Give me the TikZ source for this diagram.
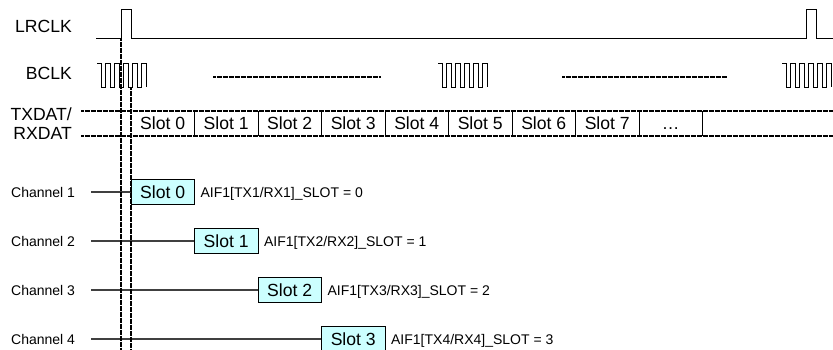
\documentclass[tikz,border=0pt]{standalone}
\usepackage{fontspec}
\setmainfont{Liberation Sans}
\usepackage{xcolor}
\usetikzlibrary{positioning, calc}

\definecolor{slotcyan}{RGB}{204,255,255}

\tikzset{
  sig/.style={line width=1pt, line join=miter},
  dotline/.style={line width=2pt, dash pattern=on 0.8pt off 0.4pt},
  biglabel/.style={font=\fontsize{17.6}{20}\selectfont, inner sep=0pt, text height=12.6pt, text depth=0pt},
  smalllabel/.style={font=\fontsize{14}{16}\selectfont, inner sep=0pt, text height=10pt, text depth=0pt},
  slotcell/.style={biglabel, minimum width=63.5pt, minimum height=25pt},
  chbox/.style={slotcell, draw, line width=0.9pt, fill=slotcyan},
  chline/.style={line width=1.3pt, black!75},
}

\begin{document}
\begin{tikzpicture}[x=1pt, y=-1pt]
    \useasboundingbox (0,0) rectangle (833,349);
    \def\slotw{63.5}
    \def\xb{131}
    \def\hi{63}

    % Signal names
    \node[biglabel, anchor=east] (lrclk) at (72,26) {LRCLK};
    \node[biglabel, anchor=east] (bclk) at (72,73) {BCLK};
    \node[biglabel, anchor=east] (txdat) at (72,114) {TXDAT/};
    \node[biglabel, anchor=east] (rxdat) at (72,133) {RXDAT};

    % LRCLK waveform
    \draw[sig] (96,38) -- (121,38) -- (121,9) -- (131,9) -- (131,38)
        -- (806,38) -- (806,9) -- (816,9) -- (816,38) -- (833,38);

    % BCLK bursts
    \foreach \x in {97, 438, 782} {
        \draw[sig] (\x,\hi) -- ++(4.4,0)
            \foreach \k in {1,...,5} { -- ++(0,24) -- ++(4.5,0) -- ++(0,-24) -- ++(4.5,0) }
            -- ++(0,24);
    }
    \draw[dotline] (213,77) -- (380,77);
    \draw[dotline] (562,77) -- (727,77);

    % Slot row
    \draw[dotline] (81,111) -- (833,111);
    \draw[dotline] (81,136) -- (833,136);
    \foreach \i in {0,...,7} {
        \node[slotcell] (s\i) at ({\xb+\slotw*(\i+0.5)},123.5) {Slot \i};
    }
    \node[slotcell] (s8) at ({\xb+\slotw*8.5},123.5) {\dots};
    \foreach \i in {0,...,8} {
        \draw[sig] (s\i.north east) -- (s\i.south east);
    }

    % Channel rows
    \foreach \i/\ch/\y in {0/1/192, 1/2/241, 2/3/290, 3/4/339} {
        \node[smalllabel, anchor=west] (ch\ch) at (11,\y) {Channel \ch};
        \coordinate (cs\ch) at (91,\y);
        \node[chbox] (b\ch) at ({\xb+\slotw*(\i+0.5)},\y) {Slot \i};
        \draw[chline] (cs\ch) -- (b\ch.west);
        \node[smalllabel, right=5.5pt of b\ch] (aif\ch) {AIF1[TX\ch/RX\ch]\_SLOT = \i};
    }

    % Frame start markers
    \draw[dotline] (121,38) -- (121,349);
    \draw[dotline] (131,87) -- (131,349);
\end{tikzpicture}
\end{document}
